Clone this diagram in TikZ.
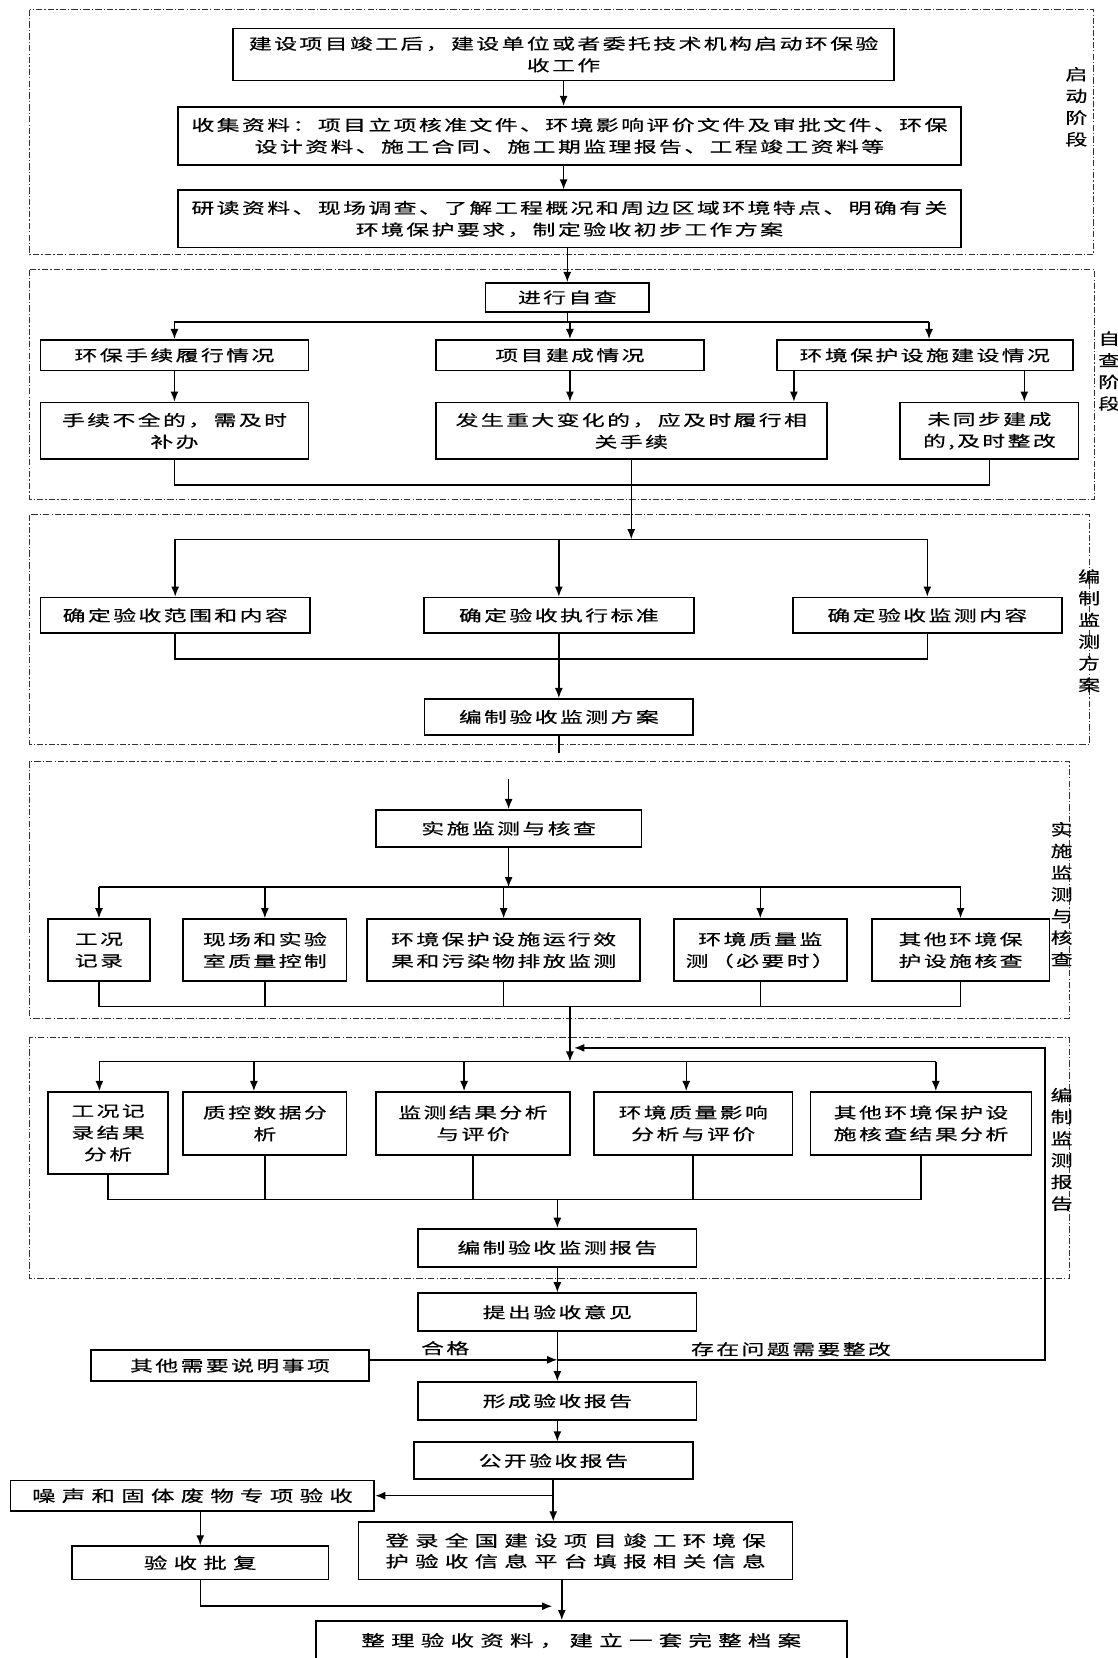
\documentclass[tikz,border=0pt]{standalone}
\usepackage{fontspec}
\setmainfont{Noto Sans CJK SC}[FakeStretch=1.5,LetterSpace=16,FakeBold=0.5]
\newfontfamily\widefam{Noto Sans CJK SC}[FakeStretch=1.5,LetterSpace=40,FakeBold=0.5]
\newfontfamily\tagfam{Noto Sans CJK SC}[FakeStretch=1.4,FakeBold=0.5]
\newcommand\normfont{\fontsize{7.2}{10.25}\selectfont}
\newcommand\widefont{\widefam\fontsize{7.4}{9.8}\selectfont}
\newcommand\tagfont{\tagfam\fontsize{7.4}{10.25}\selectfont}
\usetikzlibrary{arrows.meta}

\tikzset{
  box/.style={draw, line width=0.8pt, inner sep=0pt, align=center, font=\normfont},
  wbox/.style={box, font=\widefont},
  note/.style={inner sep=0pt, font=\normfont},
  stage/.style={draw=black!80, line width=0.5pt, dash pattern=on 3pt off 1pt on 0.6pt off 1pt},
  tag/.style={inner sep=0pt, align=center, font=\tagfont}
}

\begin{document}
\begin{tikzpicture}[x=0.5pt, y=-0.5pt, line width=0.7pt, >={Latex[length=4.8pt,width=3.8pt]}]
	\useasboundingbox (0,0) rectangle (1057,1568);

	% dashed stage frames
	\draw[stage] (28,9) rectangle (1034,241);
	\draw[stage] (28,255) rectangle (1035,472);
	\draw[stage] (28,487) rectangle (1030,704);
	\draw[stage] (28,720) rectangle (1011,963);
	\draw[stage] (28,981) rectangle (1011,1209);
	\node[tag] (t1) at (1018,101) {启\\动\\阶\\段};
	\node[tag] (t2) at (1049,351) {自\\查\\阶\\段};
	\node[tag] (t3) at (1030,596.5) {编\\制\\监\\测\\方\\案};
	\node[tag] (t4) at (1004,845.5) {实\\施\\监\\测\\与\\核\\查};
	\node[tag] (t5) at (1004,1087) {编\\制\\监\\测\\报\\告};

	% start
	\node[box, minimum width=312.5pt, minimum height=24.5pt] (b1) at (533,51.5) {建设项目竣工后，建设单位或者委托技术机构启动环保验\\收工作};
	\node[box, minimum width=370pt, minimum height=27.5pt] (b2) at (538.5,128.5) {收集资料：项目立项核准文件、环境影响评价文件及审批文件、环保\\设计资料、施工合同、施工期监理报告、工程竣工资料等};
	\node[box, minimum width=370pt, minimum height=27pt] (b3) at (538.5,207) {研读资料、现场调查、了解工程概况和周边区域环境特点、明确有关\\环境保护要求，制定验收初步工作方案};
	\draw[->] (b1.south) -- (b1.south |- b2.north);
	\draw[->] (b1.south |- b2.south) -- (b1.south |- b3.north);

	% self check
	\node[box, minimum width=77.5pt, minimum height=13.7pt] (c0) at (536.5,281.3) {进行自查};
	\draw[->] (b3.south -| c0.north) -- (c0.north);
	\node[box, minimum width=126.7pt, minimum height=14.5pt] (c1) at (165,336) {环保手续履行情况};
	\node[box, minimum width=127pt, minimum height=14.5pt] (c2) at (539,336) {项目建成情况};
	\node[box, minimum width=140pt, minimum height=14.5pt] (c3) at (874.6,336) {环境保护设施建设情况};
	\coordinate (s2) at (536.5,304.6);
	\draw (c0.south) -- (s2);
	\draw (s2 -| c1.north) -- ([xshift=2pt]s2 -| c3.north);
	\foreach \n/\s in {c1/0,c2/0,c3/2}
		\draw[->] ([xshift=\s pt]s2 -| \n.north) -- ([xshift=\s pt]\n.north);
	\node[box, minimum width=126.7pt, minimum height=26.8pt] (d1) at (165,407.5) {手续不全的，需及时\\补办};
	\node[box, minimum width=185pt, minimum height=26.8pt] (d2) at (597,407.5) {发生重大变化的，应及时履行相\\关手续};
	\node[box, minimum width=84.3pt, minimum height=26.8pt] (d3) at (935.7,407.5) {未同步建成\\的,及时整改};
	\draw[->] (c1.south) -- (d1.north);
	\draw[->] (c2.south) -- (c2.south |- d2.north);
	\draw[->] ([xshift=-16pt]d2.north east |- c3.south) -- ([xshift=-16pt]d2.north east);
	\draw[->] ([xshift=16.5pt]d3.north |- c3.south) -- ([xshift=16.5pt]d3.north);
	\coordinate (m2) at (597,458.6);
	\draw (d1.south) |- (d3.south |- m2) -- (d3.south);

	% monitoring plan
	\coordinate (s3) at (597,510);
	\draw[->] (d2.south) -- (s3);
	\node[box, minimum width=127.3pt, minimum height=16.9pt] (e1) at (165.7,582) {确定验收范围和内容};
	\node[box, minimum width=127.5pt, minimum height=16.9pt] (e2) at (528.5,582) {确定验收执行标准};
	\node[box, minimum width=127.2pt, minimum height=16.9pt] (e3) at (877,582) {确定验收监测内容};
	\draw (s3 -| e1.north) -- (s3 -| e3.north);
	\foreach \n in {e1,e2,e3}
		\draw[->] (s3 -| \n.north) -- (\n.north);
	\node[box, minimum width=127pt, minimum height=17pt] (f) at (528.5,678) {编制验收监测方案};
	\coordinate (m3) at (528.5,623.4);
	\draw (e1.south) |- (e3.south |- m3) -- (e3.south);
	\draw[->] (e2.south) -- (f.north);
	\coordinate (x3) at (528.5,712);
	\draw (f.south) -- (x3);

	% monitoring and checking
	\coordinate (a4) at (481,737);
	\node[box, minimum width=125.7pt, minimum height=17.5pt] (g) at (481,783.5) {实施监测与核查};
	\draw[->] (a4) -- (g.north);
	\coordinate (s4) at (481,839);
	\draw[->] (g.south) -- (s4);
	\node[box, minimum width=48.2pt, minimum height=29.4pt] (h1) at (93.6,898.6) {工况\\记录};
	\node[box, minimum width=77.2pt, minimum height=29.4pt] (h2) at (250.5,898.6) {现场和实验\\室质量控制};
	\node[box, minimum width=129.1pt, minimum height=29.4pt] (h3) at (476.3,898.6) {环境保护设施运行效\\果和污染物排放监测};
	\node[box, minimum width=81.9pt, minimum height=29.4pt] (h4) at (719,898.6) {环境质量监\\测（必要时）};
	\node[box, minimum width=84pt, minimum height=29.4pt] (h5) at (908.4,898.6) {其他环境保\\护设施核查};
	\draw (s4 -| h1.north) -- (s4 -| h5.north);
	\foreach \n in {h1,h2,h3,h4,h5}
		\draw[->] (s4 -| \n.north) -- (\n.north);
	\coordinate (m4) at (539,952);
	\draw (h1.south) |- (h5.south |- m4) -- (h5.south);
	\foreach \n in {h2,h3,h4}
		\draw (\n.south) -- (\n.south |- m4);

	% monitoring report
	\coordinate (s5) at (539,1004);
	\draw[->] (m4) -- (s5);
	\node[box, minimum width=57pt, minimum height=38.7pt] (i1) at (102.2,1071.3) {工况记\\录结果\\分析};
	\node[box, minimum width=77.2pt, minimum height=29.7pt] (i2) at (250.5,1062.4) {质控数据分\\析};
	\node[box, minimum width=92pt, minimum height=29.7pt] (i3) at (447.3,1062.4) {监测结果分析\\与评价};
	\node[box, minimum width=94pt, minimum height=29.7pt] (i4) at (655.6,1062.4) {环境质量影响\\分析与评价};
	\node[box, minimum width=104.4pt, minimum height=29.7pt] (i5) at (871,1062.4) {其他环境保护设\\施核查结果分析};
	\draw ([xshift=-4.1pt]i1.north |- s5) -- ([xshift=7pt]i5.north |- s5);
	\foreach \n/\s in {i1/-4.1,i2/-5.2,i3/-4.2,i4/-3.3,i5/7}
		\draw[->] ([xshift=\s pt]\n.north |- s5) -- ([xshift=\s pt]\n.north);
	\coordinate (m5) at (527.1,1134.5);
	\draw (i1.south) |- (i5.south |- m5) -- (i5.south);
	\foreach \n in {i2,i3,i4}
		\draw (\n.south) -- (\n.south |- m5);
	\node[box, minimum width=131.5pt, minimum height=18pt] (j) at (527.1,1180) {编制验收监测报告};
	\draw[->] (m5) -- (j.north);

	% opinion and report
	\node[box, minimum width=131.5pt, minimum height=18pt] (k) at (527.1,1241) {提出验收意见};
	\draw[->] (j.south) -- (k.north);
	\node[box, minimum width=131.5pt, minimum height=14.5pt] (oth) at (217.5,1291.5) {其他需要说明事项};
	\node[box, minimum width=131.5pt, minimum height=18pt] (form) at (527.1,1325) {形成验收报告};
	\coordinate (q1) at (527.1,1286);
	\coordinate (back) at (543,991);
	\draw[->] (k.south) -- (form.north);
	\draw[->] (oth.east |- q1) -- (q1);
	\draw[->] (q1) -- ++(461,0) |- (back);
	\node[note] (ok) at (421,1275) {合格};
	\node[note] (bad) at (748,1276) {存在问题需要整改};

	\node[box, minimum width=132pt, minimum height=17.5pt] (pub) at (523.2,1381.5) {公开验收报告};
	\draw[->] (form.south) -- (form.south |- pub.north);
	\node[wbox, minimum width=172pt, minimum height=14.5pt] (noise) at (182,1414.5) {噪声和固体废物专项验收};
	\node[wbox, minimum width=205.3pt, minimum height=27.1pt] (plat) at (544.3,1466.7) {登录全国建设项目竣工环境保\\护验收信息平台填报相关信息};
	\node[wbox, minimum width=121.4pt, minimum height=15.7pt] (appr) at (189.4,1478) {验收批复};
	\node[wbox, minimum width=251pt, minimum height=18.5pt] (arch) at (549.7,1551.5) {整理验收资料，建立一套完整档案};
	\draw[->] (pub.south) -- (pub.south |- plat.north);
	\draw[->] (pub.south |- noise.east) -- (noise.east);
	\draw[->] (noise.south -| appr.north) -- (appr.north);
	\coordinate (n2) at (531.3,1519);
	\draw[->] (plat.south -| n2) -- (arch.north -| n2);
	\draw[->] (appr.south) |- ([xshift=-4.5pt]n2);
\end{tikzpicture}
\end{document}
